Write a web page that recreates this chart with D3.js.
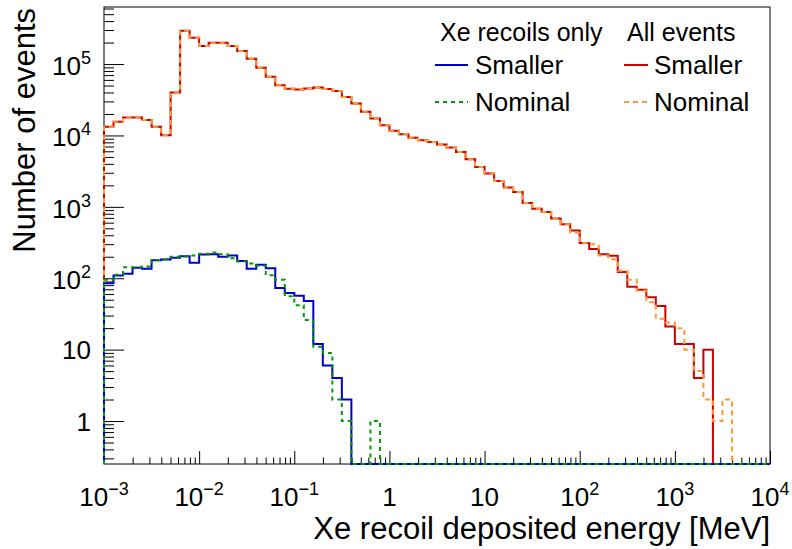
<!DOCTYPE html>
<html>
<head>
<meta charset="utf-8">
<script src="https://cdn.jsdelivr.net/npm/d3@7"></script>
<style>
  body { margin: 0; background: #fff; }
  svg { display: block; }
  text { font-family: "Liberation Sans", Arial, Helvetica, sans-serif; fill: #000; }
</style>
</head>
<body>
<svg id="chart" width="792" height="549"></svg>
<script>
// Histogram binning: 10 log-spaced bins per decade from 1 keV to 10 GeV (in MeV)
const energyRange = [1e-3, 1e4];
const binsPerDecade = 10;

// Bin contents (events per bin)
const xeSmaller = [
  85, 109, 116, 140, 136, 178, 183, 194, 203, 165,
  215, 216, 200, 209, 174, 136, 155, 138, 73, 62,
  57, 48, 12, 6, 4, 2, 0, 0, 0, 0,
  0, 0, 0, 0, 0, 0, 0, 0, 0, 0,
  0, 0, 0, 0, 0, 0, 0, 0, 0, 0,
  0, 0, 0, 0, 0, 0, 0, 0, 0, 0,
  0, 0, 0, 0, 0, 0, 0, 0, 0, 0
];
const xeNominal = [
  95, 112, 143, 143, 146, 178, 184, 200, 202, 209,
  220, 230, 216, 190, 172, 161, 150, 110, 95, 56,
  42, 26, 11, 9, 2, 1, 0, 0, 1, 0,
  0, 0, 0, 0, 0, 0, 0, 0, 0, 0,
  0, 0, 0, 0, 0, 0, 0, 0, 0, 0,
  0, 0, 0, 0, 0, 0, 0, 0, 0, 0,
  0, 0, 0, 0, 0, 0, 0, 0, 0, 0
];
const allSmaller = [
  13200, 15500, 17900, 17900, 16400, 13200, 10100, 40100, 293000, 234000,
  179000, 199000, 199000, 179000, 152000, 119000, 88800, 66400, 50700, 45000,
  44200, 45600, 47100, 44600, 41800, 34500, 28100, 21400, 17300, 13900,
  11600, 10400, 9250, 8580, 8120, 7470, 6770, 5880, 4640, 3620,
  2920, 2300, 1860, 1620, 1130, 944, 846, 684, 569, 465,
  311, 256, 216, 207, 122, 76, 69, 54, 41, 21,
  12, 12, 4, 10, 0, 0, 0, 0, 0, 0
];
const allNominal = [
  13200, 15500, 17900, 17900, 16400, 13200, 10100, 40100, 293000, 234000,
  179000, 199000, 199000, 179000, 152000, 119000, 88800, 66400, 50700, 45000,
  44200, 45600, 47100, 44600, 41800, 34500, 28100, 21400, 17300, 13900,
  11600, 10400, 9250, 8580, 8120, 7470, 6770, 5880, 4640, 3620,
  2920, 2300, 1860, 1620, 1130, 944, 846, 684, 569, 435,
  311, 300, 209, 184, 127, 95, 67, 46, 27, 24,
  20, 10, 5, 2, 1, 2, 0, 0, 0, 0
];

// Major tick values and their labels (base, exponent)
const xMajorTicks = [1e-3, 1e-2, 1e-1, 1, 10, 1e2, 1e3, 1e4];
const xTickLabels = [["10", "\u22123"], ["10", "\u22122"], ["10", "\u22121"], ["1", ""], ["10", ""], ["10", "2"], ["10", "3"], ["10", "4"]];
const yMajorTicks = [1, 10, 1e2, 1e3, 1e4, 1e5];
const yTickLabels = [["1", ""], ["10", ""], ["10", "2"], ["10", "3"], ["10", "4"], ["10", "5"]];
const yRange = [0.25, 6.3e5];

const svg = d3.select("#chart");
const frame = { left: 104, right: 770, top: 7, bottom: 464 };

const x = d3.scaleLog().domain(energyRange).range([frame.left, frame.right]);
const y = d3.scaleLog().domain(yRange).range([frame.bottom, frame.top]).clamp(true);

// Minor ticks at 2..9 x 10^n inside each domain
function minorTicks(domain) {
  const out = [];
  const lo = Math.floor(Math.log10(domain[0])), hi = Math.ceil(Math.log10(domain[1]));
  for (let p = lo; p <= hi; p++) {
    for (let m = 2; m <= 9; m++) {
      const v = m * Math.pow(10, p);
      if (v > domain[0] && v < domain[1]) out.push(v);
    }
  }
  return out;
}

// Axes (ticks pointing into the frame)
const axesG = svg.append("g");
function styleAxis(g) {
  g.select(".domain").remove();
  g.selectAll(".tick line").attr("stroke", "#000").attr("stroke-width", 1);
  g.selectAll(".tick text").remove();
}
axesG.append("g").attr("transform", `translate(0,${frame.bottom})`)
  .call(d3.axisBottom(x).tickValues(xMajorTicks).tickSize(-13).tickFormat(""))
  .call(styleAxis);
axesG.append("g").attr("transform", `translate(0,${frame.bottom})`)
  .call(d3.axisBottom(x).tickValues(minorTicks(energyRange)).tickSize(-6.5).tickFormat(""))
  .call(styleAxis);
axesG.append("g").attr("transform", `translate(${frame.left},0)`)
  .call(d3.axisLeft(y).tickValues(yMajorTicks).tickSize(-20).tickFormat(""))
  .call(styleAxis);
axesG.append("g").attr("transform", `translate(${frame.left},0)`)
  .call(d3.axisLeft(y).tickValues(minorTicks(yRange)).tickSize(-10).tickFormat(""))
  .call(styleAxis);

// Frame
svg.append("rect")
  .attr("x", frame.left).attr("y", frame.top)
  .attr("width", frame.right - frame.left).attr("height", frame.bottom - frame.top)
  .attr("fill", "none").attr("stroke", "#000").attr("stroke-width", 1);

// Tick labels with superscript exponents
function addPowerLabel(sel, base, exp) {
  sel.append("tspan").text(base);
  if (exp) sel.append("tspan").attr("dy", -11).attr("font-size", 18).text(exp);
}
xMajorTicks.forEach((v, i) => {
  const t = svg.append("text")
    .attr("x", x(v)).attr("y", 506)
    .attr("text-anchor", "middle").attr("font-size", 26);
  addPowerLabel(t, xTickLabels[i][0], xTickLabels[i][1]);
});
yMajorTicks.forEach((v, i) => {
  const [b, e] = yTickLabels[i];
  const t = svg.append("text")
    .attr("x", 91).attr("y", y(v) + (e ? 11 : 9.5))
    .attr("text-anchor", "end").attr("font-size", 26);
  addPowerLabel(t, b, e);
});

// Axis titles
svg.append("text")
  .attr("x", frame.right).attr("y", 539)
  .attr("text-anchor", "end").attr("font-size", 31)
  .text("Xe recoil deposited energy [MeV]");
svg.append("text")
  .attr("transform", `translate(35,${frame.top + 1}) rotate(-90)`)
  .attr("text-anchor", "end").attr("font-size", 31)
  .text("Number of events");

// Step histograms
const nBins = Math.round(Math.log10(energyRange[1] / energyRange[0]) * binsPerDecade);
const edges = d3.range(nBins + 1).map(k => energyRange[0] * Math.pow(10, k / binsPerDecade));

function stepPoints(values) {
  const yb = frame.bottom;
  const pts = [[x(edges[0]), yb]];
  values.forEach((v, i) => {
    const yy = v > 0 ? y(v) : yb;
    pts.push([x(edges[i]), yy], [x(edges[i + 1]), yy]);
  });
  pts.push([x(edges[nBins]), yb]);
  return pts;
}
const line = d3.line();

const series = [
  { values: allSmaller, color: "#cc0000", dash: null },
  { values: allNominal, color: "#ff9933", dash: "5,4" },
  { values: xeSmaller, color: "#0000cc", dash: null },
  { values: xeNominal, color: "#009900", dash: "4,4" }
];
series.forEach(s => {
  svg.append("path")
    .attr("d", line(stepPoints(s.values)))
    .attr("fill", "none")
    .attr("stroke", s.color)
    .attr("stroke-width", 2)
    .attr("stroke-dasharray", s.dash)
    .attr("stroke-linejoin", "miter");
});

// Legend: two columns, header row then one row per variation
const legendHeaders = [
  { text: "Xe recoils only", x: 440 },
  { text: "All events", x: 627 }
];
const legendEntries = [
  { text: "Smaller", color: "#0000cc", dash: null, x0: 435, x1: 468, tx: 475, row: 0 },
  { text: "Nominal", color: "#009900", dash: "4,4", x0: 435, x1: 468, tx: 475, row: 1 },
  { text: "Smaller", color: "#cc0000", dash: null, x0: 624, x1: 648, tx: 654, row: 0 },
  { text: "Nominal", color: "#ff9933", dash: "5,4", x0: 624, x1: 648, tx: 654, row: 1 }
];
const legend = svg.append("g");
legend.selectAll("text.hdr").data(legendHeaders).join("text")
  .attr("class", "hdr")
  .attr("x", d => d.x).attr("y", 41)
  .attr("font-size", 25)
  .text(d => d.text);
legend.selectAll("line").data(legendEntries).join("line")
  .attr("x1", d => d.x0).attr("x2", d => d.x1)
  .attr("y1", d => 65 + d.row * 37).attr("y2", d => 65 + d.row * 37)
  .attr("stroke", d => d.color).attr("stroke-width", 2)
  .attr("stroke-dasharray", d => d.dash);
legend.selectAll("text.entry").data(legendEntries).join("text")
  .attr("class", "entry")
  .attr("x", d => d.tx).attr("y", d => 74 + d.row * 37)
  .attr("font-size", 26)
  .text(d => d.text);
</script>
</body>
</html>
